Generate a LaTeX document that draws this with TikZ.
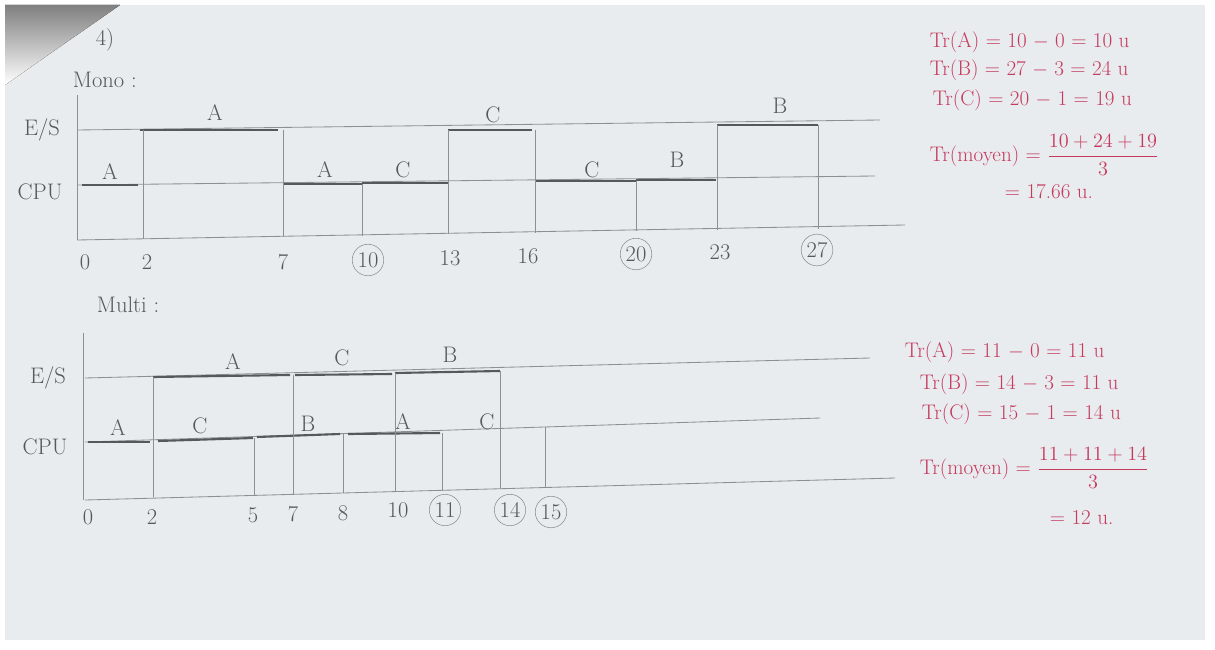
\documentclass[tikz,border=0pt]{standalone}
\usepackage{tikz}
\usetikzlibrary{positioning}
\definecolor{paper}{HTML}{E8ECEE}
\definecolor{shade}{HTML}{5A5C5E}
\definecolor{pencil}{HTML}{8C9092}
\definecolor{lead}{HTML}{55595B}
\definecolor{ink}{HTML}{C63A5E}

\begin{document}
\begin{tikzpicture}[x=0.025cm, y=-0.025cm,
    axis/.style={draw=pencil, line width=0.6pt},
    run/.style={draw=lead, line width=1.5pt},
    tick/.style={draw=pencil, line width=0.6pt},
    hand/.style={font=\fontsize{16}{18}\selectfont, text=lead},
    done/.style={hand, circle, draw=pencil, inner sep=1.5pt},
    res/.style={font=\fontsize{15}{18}\selectfont, text=ink, anchor=west},
]
\useasboundingbox (0,0) rectangle (1215,650);

% Paper
\fill[white] (0,0) rectangle (1215,650);
\fill[paper] (5,5) rectangle (1205,640);
\fill[shade] (5,5) -- (120,5) -- (5,85) -- cycle;

% Titles
\node[hand] (ex) at (105,40) {4)};
\node[hand, anchor=west] (mono) at (68,80) {Mono :};
\node[hand, anchor=west] (multi) at (92,305) {Multi :};

% ---------- Mono ----------
\node[hand] (es1) at (42,130) {E/S};
\node[hand] (cpu1) at (40,192) {CPU};
\draw[axis] (77,95) -- (77,240);
\draw[axis] (77,130) -- (880,120);
\draw[axis] (77,185) -- (875,176);
\draw[axis] (77,240) -- (905,225);

% Processes
\draw[run] (82,185) -- (138,185);
\node[hand] (a1) at (110,172) {A};
\draw[run] (140,130) -- (278,130);
\node[hand] (a2) at (215,113) {A};
\draw[run] (283,184) -- (362,184);
\node[hand] (a3) at (325,170) {A};
\draw[run] (362,183) -- (448,183);
\node[hand] (c1) at (403,170) {C};
\draw[run] (448,130) -- (532,130);
\node[hand] (c2) at (493,115) {C};
\draw[run] (535,181) -- (636,181);
\node[hand] (c3) at (592,170) {C};
\draw[run] (636,180) -- (716,180);
\node[hand] (b1) at (677,160) {B};
\draw[run] (717,125) -- (818,125);
\node[hand] (b2) at (780,106) {B};

% Boundaries
\draw[tick] (143,130) -- (143,239);
\draw[tick] (283,130) -- (283,237);
\draw[tick] (362,184) -- (362,236);
\draw[tick] (448,130) -- (448,234);
\draw[tick] (535,130) -- (535,233);
\draw[tick] (636,181) -- (636,231);
\draw[tick] (717,125) -- (717,230);
\draw[tick] (818,125) -- (818,229);

% Time
\node[hand] (t0) at (85,262) {0};
\node[hand] (t2) at (147,262) {2};
\node[hand] (t7) at (283,262) {7};
\node[done] (t10) at (368,260) {10};
\node[hand] (t13) at (450,258) {13};
\node[hand] (t16) at (528,256) {16};
\node[done] (t20) at (636,254) {20};
\node[hand] (t23) at (720,252) {23};
\node[done] (t27) at (817,250) {27};

% ---------- Multi ----------
\node[hand] (es2) at (48,378) {E/S};
\node[hand] (cpu2) at (45,447) {CPU};
\draw[axis] (83,333) -- (83,500);
\draw[axis] (85,378) -- (870,358);
\draw[axis] (85,442) -- (820,418);
\draw[axis] (85,500) -- (895,478);

% Processes
\draw[run] (88,442) -- (150,442);
\node[hand] (a4) at (118,428) {A};
\draw[run] (153,377) -- (290,375);
\node[hand] (a5) at (233,362) {A};
\draw[run] (158,441) -- (253,438);
\node[hand] (c4) at (200,426) {C};
\draw[run] (257,437) -- (340,434);
\node[hand] (b3) at (308,424) {B};
\draw[run] (295,375) -- (392,374);
\node[hand] (c5) at (342,358) {C};
\draw[run] (348,434) -- (440,433);
\node[hand] (a6) at (403,422) {A};
\draw[run] (395,373) -- (500,371);
\node[hand] (b4) at (450,355) {B};
\node[hand] (c6) at (487,422) {C};

% Boundaries
\draw[tick] (153,377) -- (153,497);
\draw[tick] (254,438) -- (254,495);
\draw[tick] (293,375) -- (293,494);
\draw[tick] (343,434) -- (343,493);
\draw[tick] (395,373) -- (395,492);
\draw[tick] (442,433) -- (442,491);
\draw[tick] (500,371) -- (500,489);
\draw[tick] (545,427) -- (545,488);

% Time
\node[hand] (u0) at (88,517) {0};
\node[hand] (u2) at (152,517) {2};
\node[hand] (u5) at (253,515) {5};
\node[hand] (u7) at (293,514) {7};
\node[hand] (u8) at (343,513) {8};
\node[hand] (u10) at (398,510) {10};
\node[done] (u11) at (445,510) {11};
\node[done] (u14) at (510,510) {14};
\node[done] (u15) at (551,512) {15};

% Results
\node[res] (ra1) at (925,42) {Tr(A) = 10 $-$ 0 = 10 u};
\node[res] (rb1) at (925,70) {Tr(B) = 27 $-$ 3 = 24 u};
\node[res] (rc1) at (928,100) {Tr(C) = 20 $-$ 1 = 19 u};
\node[res] (rm1) at (925,155) {Tr(moyen) = $\displaystyle\frac{10+24+19}{3}$};
\node[res] (rv1) at (1000,192) {= 17.66 u.};

\node[res] (ra2) at (900,352) {Tr(A) = 11 $-$ 0 = 11 u};
\node[res] (rb2) at (915,384) {Tr(B) = 14 $-$ 3 = 11 u};
\node[res] (rc2) at (917,414) {Tr(C) = 15 $-$ 1 = 14 u};
\node[res] (rm2) at (915,468) {Tr(moyen) = $\displaystyle\frac{11+11+14}{3}$};
\node[res] (rv2) at (1045,518) {= 12 u.};
\end{tikzpicture}
\end{document}
